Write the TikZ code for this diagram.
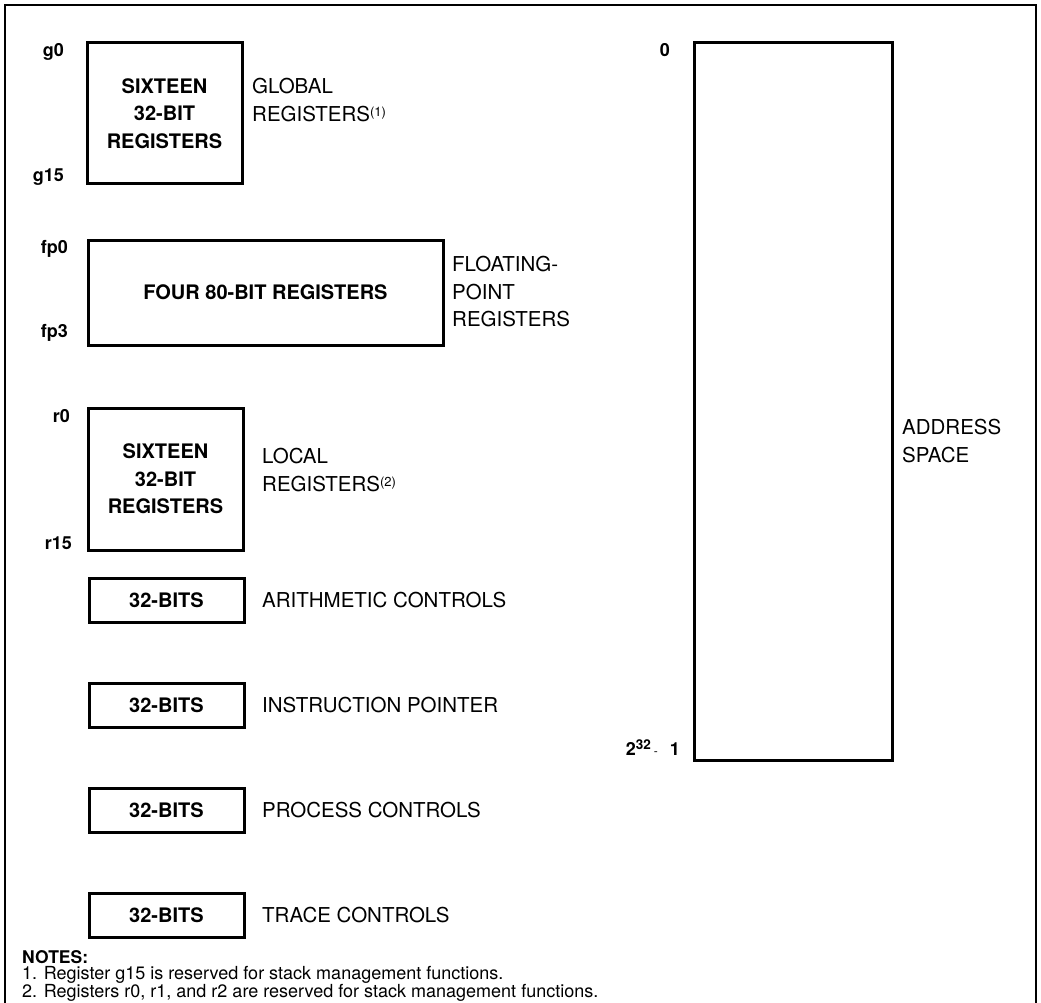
\documentclass[tikz,border=0pt]{standalone}
\usepackage{fontspec}
\setmainfont{TeX Gyre Heros}
\begin{document}
\begin{tikzpicture}[x=1pt,y=-1pt,
  regbox/.style={draw, line width=3pt, inner sep=0pt, align=center,
    font=\bfseries\fontsize{20}{27.5}\selectfont},
  lbl/.style={anchor=west, align=left, inner sep=0pt,
    font=\fontsize{20.5}{27.5}\selectfont},
  idx/.style={anchor=east, inner sep=0pt,
    font=\bfseries\fontsize{18}{18}\selectfont},
  notetxt/.style={anchor=west, inner sep=0pt,
    font=\fontsize{18}{18}\selectfont},
  frameline/.style={line width=1.6pt}]
\useasboundingbox (0,0) rectangle (1041,1003);
\newcommand{\supmark}[1]{{\fontsize{13}{13}\selectfont\raisebox{5pt}{(#1)}}}
% frame
\coordinate (fbl) at (5,1003);
\coordinate (ftl) at (5,5);
\coordinate (ftr) at (1036,5);
\coordinate (fbr) at (1036,1003);
\draw[frameline] (fbl) -- (ftl) -- (ftr) -- (fbr);
% global registers
\node[regbox, minimum width=155pt, minimum height=141pt] (glob) at (164.5,113.5)
  {SIXTEEN\\32-BIT\\REGISTERS};
\node[idx] (g0) at (64,52) {g0};
\node[idx] (g15) at (64,177) {g15};
\node[lbl] (globl) at (252,100) {GLOBAL\\REGISTERS\supmark{1}};
% floating point
\node[regbox, minimum width=355pt, minimum height=105pt] (fp) at (265.5,292.5)
  {FOUR 80-BIT REGISTERS};
\node[idx] (fp0) at (68,249) {fp0};
\node[idx] (fp3) at (68,333) {fp3};
\node[lbl] (fpl) at (452,292) {FLOATING-\\POINT\\REGISTERS};
% local registers
\node[regbox, minimum width=155pt, minimum height=142pt] (loc) at (165.5,479)
  {SIXTEEN\\32-BIT\\REGISTERS};
\node[idx] (r0) at (70,416) {r0};
\node[idx] (r15) at (72,543) {r15};
\node[lbl] (locl) at (262,470) {LOCAL\\REGISTERS\supmark{2}};
% control registers
\node[regbox, minimum width=155pt, minimum height=44pt] (ac) at (166.5,600) {32-BITS};
\node[lbl] (acl) at (262,600) {ARITHMETIC CONTROLS};
\node[regbox, minimum width=155pt, minimum height=44pt] (ip) at (166.5,705) {32-BITS};
\node[lbl] (ipl) at (262,705) {INSTRUCTION POINTER};
\node[regbox, minimum width=155pt, minimum height=44pt] (pc) at (166.5,810) {32-BITS};
\node[lbl] (pcl) at (262,810) {PROCESS CONTROLS};
\node[regbox, minimum width=155pt, minimum height=44pt] (tc) at (166.5,915) {32-BITS};
\node[lbl] (tcl) at (262,915) {TRACE CONTROLS};
% address space
\node[regbox, minimum width=198pt, minimum height=717pt] (as) at (793,401.5) {};
\node[idx] (a0) at (670,50) {0};
\node[idx] (amax) at (680,748) {2\raisebox{6pt}{\fontsize{13.5}{13.5}\selectfont 32}\,{\mdseries\fontsize{12}{12}\selectfont -}\,\,\,\,1};
\node[lbl] (asl) at (902,441) {ADDRESS\\SPACE};
% notes
\node[notetxt, font=\bfseries\fontsize{17.5}{18}\selectfont] (notes) at (22,957) {NOTES:};
\node[notetxt] (n1) at (22,975) {1. Register g15 is reserved for stack management functions.};
\node[notetxt] (n2) at (22,993) {2. Registers r0, r1, and r2 are reserved for stack management functions.};
\end{tikzpicture}
\end{document}
